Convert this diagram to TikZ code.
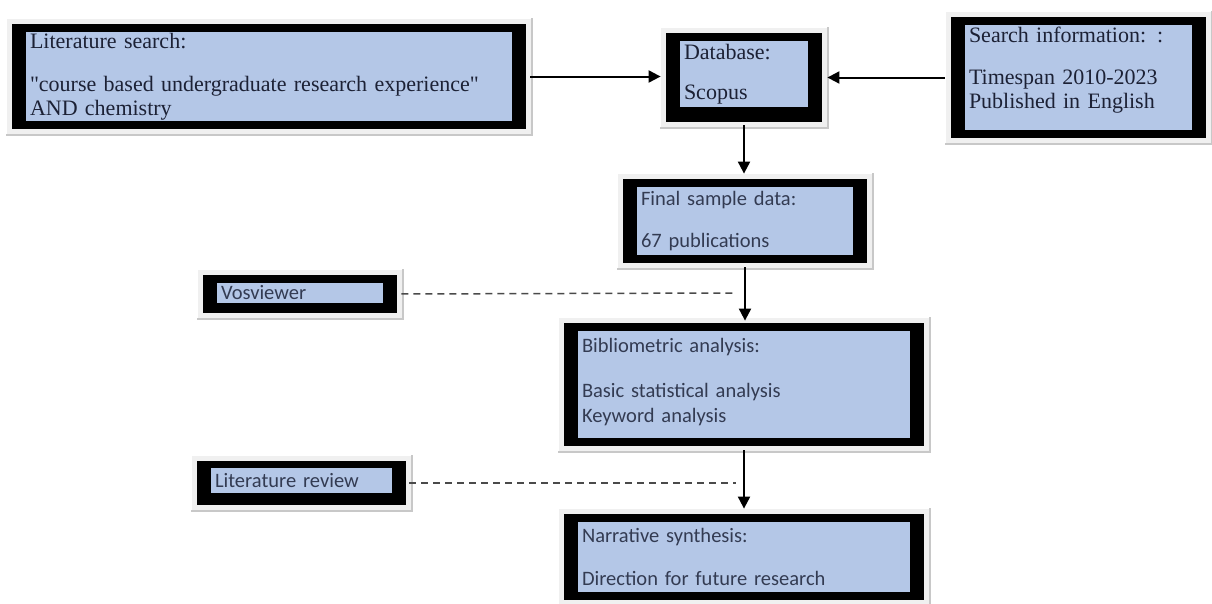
\documentclass[tikz,border=0pt]{standalone}
\usepackage{fontspec}
\usetikzlibrary{positioning,arrows.meta,fit,backgrounds}
\newfontfamily\serifface{Liberation Serif}
\newfontfamily\calface{Carlito}
\definecolor{panelblue}{HTML}{B4C7E7}
\definecolor{inkserif}{HTML}{1C2135}
\definecolor{inksans}{HTML}{333B52}
\definecolor{halogray}{HTML}{F0F0F0}
\definecolor{haloedge}{HTML}{C8C8C8}
\definecolor{dashgray}{HTML}{4A4A4A}
% black frame with a pale halo behind an inner panel
\newcommand{\rim}[2][]{%
\begin{pgfonlayer}{background}
\node[rimbox, fit=(#2-in), #1] (#2) {};
\node[halo, fit=(#2)] (#2-halo) {};
\draw[haloline] (#2-halo.south west) -- (#2-halo.south east) -- (#2-halo.north east);
\fill[black] (#2.south west) rectangle (#2.north east);
\end{pgfonlayer}%
}

\begin{document}
\begin{tikzpicture}[x=1pt, y=-1pt,
  panel/.style={fill=panelblue, inner xsep=4pt, inner ysep=0pt, align=left},
  serifpanel/.style={panel, text=inkserif, font=\serifface\fontsize{22}{24}\selectfont},
  sanspanel/.style={panel, text=inksans, font=\calface\fontsize{20.5}{25}\selectfont},
  rimbox/.style={inner xsep=14pt, inner ysep=8pt},
  halo/.style={fill=halogray, inner sep=5pt},
  haloline/.style={draw=haloedge, line width=2pt},
  arr/.style={-{Triangle[length=12pt, width=12pt]}, line width=2pt, draw=black},
  tie/.style={draw=dashgray, line width=1.5pt, dash pattern=on 7pt off 5pt}
]
\useasboundingbox (0,0) rectangle (1212,603);

% top row
\node[serifpanel, text width=478pt, minimum height=89pt] (lit-in) at (269,76.5)
  {Literature search:\\[19pt]"course based undergraduate research experience"\\AND chemistry};
\node[serifpanel, text width=120pt, minimum height=66pt] (db-in) at (744,74)
  {Database:\\[16pt]Scopus};
\node[serifpanel, text width=219pt, minimum height=105pt, text depth=86pt] (srch-in) at (1078.5,77.5)
  {Search information: :\\[18pt]Timespan 2010-2023\\Published in English};

% main column
\node[sanspanel, text width=208pt, minimum height=68pt] (fin-in) at (745,221)
  {Final sample data:\\[17pt]67 publications};
\node[sanspanel, text width=324pt, minimum height=107pt, text depth=78pt] (bib-in) at (744,384.5)
  {Bibliometric analysis:\\[20pt]Basic statistical analysis\\Keyword analysis};
\node[sanspanel, text width=324pt, minimum height=70pt] (nar-in) at (744,557)
  {Narrative synthesis:\\[18pt]Direction for future research};

% side tools
\node[sanspanel, text width=158pt, minimum height=20pt] (vos-in) at (300,293) {Vosviewer};
\node[sanspanel, text width=173pt, minimum height=25pt] (lrv-in) at (301.5,480.5) {Literature review};

\rim{lit}
\rim[inner ysep=11.5pt, yshift=-3.5pt]{db}
\rim{srch}
\rim{fin}
\rim{bib}
\rim{nar}
\rim[inner ysep=9pt, yshift=-1pt]{vos}
\rim[inner ysep=9.5pt, yshift=-2.5pt]{lrv}

\coordinate (vos-end) at (734,293);
\coordinate (lrv-end) at (736,483);

\draw[arr, shorten <=4pt, shorten >=5pt] (lit.east) -- (lit.east -| db.west);
\draw[arr, shorten <=6pt, shorten >=5pt] (srch.west) -- (srch.west -| db.east);
\draw[arr, shorten <=3pt, shorten >=5pt] (db.south) -- (db.south |- fin.north);
\draw[arr, shorten <=4pt, shorten >=2pt] (fin.south) -- (fin.south |- bib.north);
\draw[arr, shorten <=4pt, shorten >=5pt] (bib.south) -- (bib.south |- nar.north);
\draw[tie, shorten <=4pt] (vos.east) -- (vos-end);
\draw[tie, shorten <=3pt] (lrv.east) -- (lrv-end);
\end{tikzpicture}
\end{document}
